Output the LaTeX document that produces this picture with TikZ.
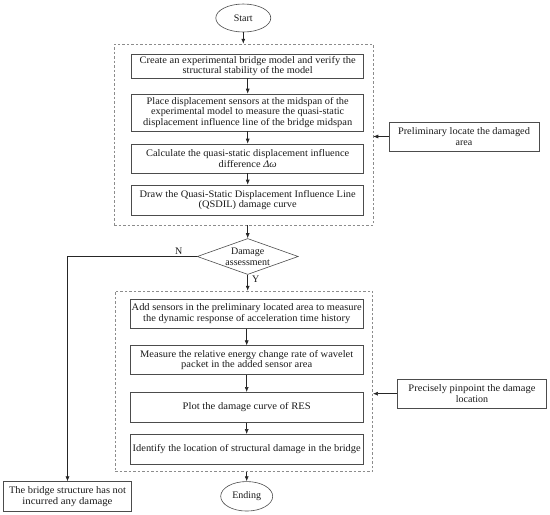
\documentclass[tikz,border=0pt]{standalone}
\usepackage{fontspec}
\usepackage{graphicx}
\setmainfont{Liberation Serif}
\usetikzlibrary{shapes.geometric,arrows.meta}
\newcommand{\fitline}[2]{\resizebox{#1pt}{\height}{#2}}
\begin{document}
\begin{tikzpicture}[x=1pt,y=-1pt,
  font=\fontsize{10}{10.7}\selectfont,
  every node/.style={text=black!90},
  box/.style={draw=black!70, line width=0.6pt, rectangle, minimum width=#1, align=center, inner sep=0pt},
  grp/.style={draw=black!45, dash pattern=on 2.5pt off 2pt, line width=0.5pt, rectangle, inner sep=0pt},
  term/.style={draw=black!70, line width=0.6pt, ellipse, inner sep=0pt},
  arr/.style={draw=black!85, line width=0.6pt, -{Latex[length=5pt,width=4pt]}}
]
\useasboundingbox (0,0) rectangle (550,515);
\node[term, minimum width=55pt, minimum height=28pt] (start) at (243.3,18) {Start};
\node[grp, minimum width=259pt, minimum height=181pt] (d1) at (243.5,134.5) {};
\node[box=232pt, minimum height=24pt] (b1) at (247.7,66) {\fitline{216}{Create an experimental bridge model and verify the}\\\fitline{130}{structural stability of the model}};
\node[box=232pt, minimum height=37pt] (b2) at (247.7,112.5) {\fitline{202}{Place displacement sensors at the midspan of the}\\\fitline{193}{experimental model to measure the quasi-static}\\\fitline{209}{displacement influence line of the bridge midspan}};
\node[box=232pt, minimum height=29pt] (b3) at (247.7,158.5) {\fitline{203}{Calculate the quasi-static displacement influence}\\\fitline{58}{difference \textit{Δω}}};
\node[box=232pt, minimum height=30pt] (b4) at (247.7,200) {\fitline{216}{Draw the Quasi-Static Displacement Influence Line}\\\fitline{98}{(QSDIL) damage curve}};
\node[box=150pt, minimum height=29pt] (pre) at (464,136.5) {\fitline{132}{Preliminary locate the damaged}\\area};
\node[draw=black!70, line width=0.6pt, diamond, aspect=2.8, minimum width=101pt, minimum height=36pt, inner sep=0pt, align=center] (dia) at (247.7,256.5) {Damage\\assessment};
\node[grp, minimum width=257.7pt, minimum height=180.7pt] (d2) at (243.85,381.35) {};
\node[box=233.3pt, minimum height=29.3pt] (b5) at (246.7,313.7) {\fitline{230}{Add sensors in the preliminary located area to measure}\\\fitline{207}{the dynamic response of acceleration time history}};
\node[box=233.3pt, minimum height=28.6pt] (b6) at (246.7,360) {\fitline{213}{Measure the relative energy change rate of wavelet}\\\fitline{131}{packet in the added sensor area}};
\node[box=233.3pt, minimum height=30pt] (b7) at (246.7,407.3) {\fitline{128}{Plot the damage curve of RES}};
\node[box=233.3pt, minimum height=29.7pt] (b8) at (246.7,449.2) {\fitline{228}{Identify the location of structural damage in the bridge}};
\node[term, minimum width=52pt, minimum height=29.5pt] (end) at (246.7,496.3) {Ending};
\node[box=149.4pt, minimum height=29.3pt] (pre2) at (472,393.7) {\fitline{127}{Precisely pinpoint the damage}\\location};
\node[box=128.4pt, minimum height=30pt] (br) at (67.5,496.7) {\fitline{117}{The bridge structure has not}\\\fitline{90}{incurred any damage}};
\draw[arr] (start.south) -- (start.south |- d1.north);
\draw[arr] (b1) -- (b2);
\draw[arr] (b2) -- (b3);
\draw[arr] (b3) -- (b4);
\draw[arr] (pre.west) -- (pre.west -| d1.east);
\draw[arr] (dia.north |- d1.south) -- (dia.north);
\draw[arr] (dia.south) -- node[right, pos=0.3, inner sep=4pt] {Y} (dia.south |- d2.north);
\draw[arr] (b5) -- (b6);
\draw[arr] (b6) -- (b7);
\draw[arr] (b7) -- (b8);
\draw[arr] (end.north |- d2.south) -- (end.north);
\draw[arr] (pre2.west) -- (pre2.west -| d2.east);
\draw[arr] (dia.west) -| node[pos=0.07, above, inner sep=2pt] {N} (br.north);
\end{tikzpicture}
\end{document}
